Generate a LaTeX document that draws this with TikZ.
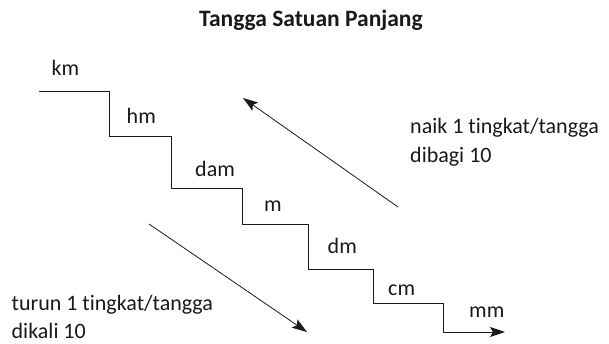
\documentclass[tikz,border=0pt]{standalone}
\usepackage{fontspec}
\setmainfont{Carlito}[Ligatures=NoCommon]
\usetikzlibrary{arrows.meta}
\begin{document}
\begin{tikzpicture}[x=1pt,y=-1pt,
  lbl/.style={anchor=base west,inner sep=0pt,font=\fontsize{22}{26}\selectfont,text=black!90},
  ttl/.style={anchor=base west,inner sep=0pt,font=\fontsize{23.5}{27}\selectfont\bfseries,text=black!90},
  stair/.style={line width=1pt,draw=black!90},
  arr/.style={line width=0.8pt,draw=black!90,-{Stealth[length=15pt,width=10pt,inset=3pt]}}]
\useasboundingbox (0,0) rectangle (609,343);
\node[ttl] (title) at (199,26) {Tangga Satuan Panjang};
% stairs
\draw[stair,-{Stealth[length=15pt,width=10pt,inset=3pt]}] (39,91) -- (109,91) -- (109,136) -- (171,136) -- (171,188) -- (242,188) -- (242,224)
  -- (308,224) -- (308,269) -- (373,269) -- (373,303) -- (443,303) -- (443,332) -- (505,332);
% unit labels
\node[lbl] (km) at (51.5,75) {km};
\node[lbl] (hm) at (126.5,123) {hm};
\node[lbl] (dam) at (195,176.5) {dam};
\node[lbl] (m) at (264,211.5) {m};
\node[lbl] (dm) at (327.5,253) {dm};
\node[lbl] (cm) at (388,295) {cm};
\node[lbl] (mm) at (469,317) {mm};
% arrows
\coordinate (upS) at (398,207);
\coordinate (upE) at (243,98);
\coordinate (dnS) at (149,224);
\coordinate (dnE) at (307,332);
\draw[arr] (upS) -- (upE);
\draw[arr] (dnS) -- (dnE);
% descriptions
\node[lbl] (naik) at (410,133) {naik 1 tingkat/tangga};
\node[lbl] (bagi) at (410,162.5) {dibagi 10};
\node[lbl] (turun) at (11.5,310) {turun 1 tingkat/tangga};
\node[lbl] (kali) at (11.5,338.5) {dikali 10};
\end{tikzpicture}
\end{document}
